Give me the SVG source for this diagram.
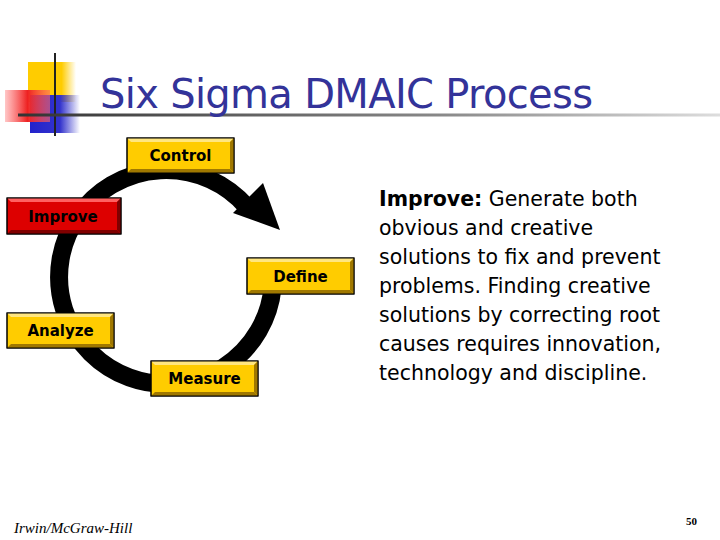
<svg xmlns="http://www.w3.org/2000/svg" width="720" height="540" viewBox="0 0 720 540">
<defs>
<linearGradient id="ul" gradientUnits="userSpaceOnUse" x1="18" y1="0" x2="720" y2="0"><stop offset="0" stop-color="#333"/><stop offset="0.6" stop-color="#888"/><stop offset="1" stop-color="#ddd"/></linearGradient>
<linearGradient id="yl" x1="0" x2="1"><stop offset="0" stop-color="#FFCC00"/><stop offset="0.7" stop-color="#FFCC00"/><stop offset="1" stop-color="#FFCC00" stop-opacity="0"/></linearGradient>
<linearGradient id="rd" x1="0" x2="1"><stop offset="0" stop-color="#FF4444" stop-opacity="0.3"/><stop offset="0.5" stop-color="#EE2222"/><stop offset="1" stop-color="#FF6666" stop-opacity="0.6"/></linearGradient>
<linearGradient id="bl" x1="0" x2="1"><stop offset="0" stop-color="#2222CC"/><stop offset="0.6" stop-color="#3333CC"/><stop offset="1" stop-color="#3333CC" stop-opacity="0"/></linearGradient>
</defs>
<style>
.box{stroke:#000;stroke-width:1}
.y{fill:#FFCC00}.r{fill:#DD0000}
.lt{fill:#FFE680}.dk{fill:#A07800}
.rlt{fill:#FF6060}.rdk{fill:#800000}
.lbl{font-family:"DejaVu Sans",Verdana,sans-serif;font-weight:bold;font-size:15px;text-anchor:middle;fill:#000}
.body{font-family:"DejaVu Sans",Verdana,sans-serif;font-size:20.5px;fill:#000}
</style>
<rect width="720" height="540" fill="#fff"/>
<g id="logo">
<rect x="28" y="62" width="48" height="40" fill="url(#yl)"/>
<rect x="30" y="95" width="50" height="38" fill="url(#bl)"/>
<rect x="5" y="90" width="45" height="32" fill="url(#rd)"/>
<line x1="55" y1="53" x2="55" y2="136" stroke="#222" stroke-width="2"/>
</g>
<line x1="18" y1="115" x2="720" y2="115" stroke="url(#ul)" stroke-width="3"/>
<text x="100" y="108" font-family="'DejaVu Sans',Verdana,sans-serif" font-size="40" fill="#333399" textLength="493">Six Sigma DMAIC Process</text>
<g id="connectors">
<path d="M272.6 287.3 A107 107 0 1 1 247 207" fill="none" stroke="#000" stroke-width="18"/>
<polygon points="263,183 280,230 233,213" fill="#000"/>
</g>
<g id="control"><rect class="box y" x="127" y="138" width="107" height="35"/><polygon class="lt" points="127,138 234,138 230,142 131,142"/><polygon class="dk" points="234,138 234,173 230,169 230,142"/><polygon class="dk" points="127,173 234,173 230,169 131,169"/><rect x="127" y="138" width="107" height="35" fill="none" stroke="#000"/><text class="lbl" x="180.5" y="161">Control</text></g>
<g id="improve"><rect class="box r" x="7" y="198" width="114" height="36"/><polygon class="rlt" points="7,198 121,198 117,202 11,202"/><polygon class="rdk" points="121,198 121,234 117,230 117,202"/><polygon class="rdk" points="7,234 121,234 117,230 11,230"/><rect x="7" y="198" width="114" height="36" fill="none" stroke="#000"/><text class="lbl" x="63" y="222">Improve</text></g>
<g id="define"><rect class="box y" x="247" y="258" width="107" height="36"/><polygon class="lt" points="247,258 354,258 350,262 251,262"/><polygon class="dk" points="354,258 354,294 350,290 350,262"/><polygon class="dk" points="247,294 354,294 350,290 251,290"/><rect x="247" y="258" width="107" height="36" fill="none" stroke="#000"/><text class="lbl" x="300.5" y="282">Define</text></g>
<g id="analyze"><rect class="box y" x="7" y="313" width="107" height="35"/><polygon class="lt" points="7,313 114,313 110,317 11,317"/><polygon class="dk" points="114,313 114,348 110,344 110,317"/><polygon class="dk" points="7,348 114,348 110,344 11,344"/><rect x="7" y="313" width="107" height="35" fill="none" stroke="#000"/><text class="lbl" x="60.5" y="336">Analyze</text></g>
<g id="measure"><rect class="box y" x="151" y="361" width="107" height="35"/><polygon class="lt" points="151,361 258,361 254,365 155,365"/><polygon class="dk" points="258,361 258,396 254,392 254,365"/><polygon class="dk" points="151,396 258,396 254,392 155,392"/><rect x="151" y="361" width="107" height="35" fill="none" stroke="#000"/><text class="lbl" x="204.5" y="384">Measure</text></g>
<g id="desc" class="body">
<text x="379" y="206"><tspan font-weight="bold">Improve:</tspan>  Generate both</text>
<text x="379" y="235">obvious and creative</text>
<text x="379" y="264">solutions to fix and prevent</text>
<text x="379" y="293">problems.  Finding creative</text>
<text x="379" y="322">solutions by correcting root</text>
<text x="379" y="351">causes requires innovation,</text>
<text x="379" y="380">technology and discipline.</text>
</g>
<text x="14" y="533" font-family="'Liberation Serif',serif" font-style="italic" font-size="15">Irwin/McGraw-Hill</text>
<text x="697" y="525" font-family="'Liberation Serif',serif" font-weight="bold" font-size="11" text-anchor="end">50</text>
</svg>
